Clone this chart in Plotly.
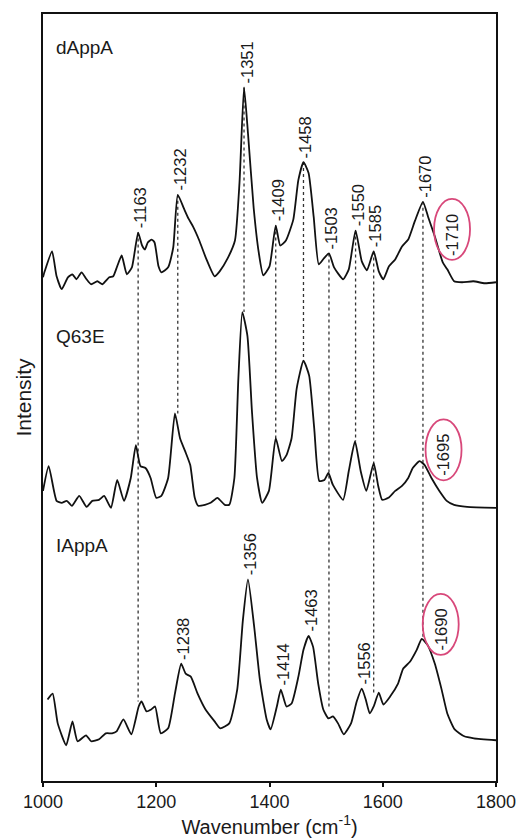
import numpy as np
import plotly.graph_objects as go

# ---------------- data ----------------
dappa_wn = [1000, 1003, 1016, 1024, 1033, 1044, 1052, 1059, 1068, 1077, 1085, 1096, 1105, 1117, 1124,
            1131, 1139, 1148, 1157, 1168, 1175, 1180, 1185, 1192, 1197, 1204, 1209, 1221, 1230, 1238,
            1249, 1257, 1265, 1276, 1288, 1303, 1312, 1326, 1339, 1347, 1355, 1362, 1372, 1381, 1389,
            1400, 1411, 1419, 1429, 1442, 1451, 1460, 1469, 1478, 1487, 1496, 1505, 1514, 1530, 1540,
            1552, 1563, 1572, 1584, 1593, 1601, 1611, 1622, 1634, 1645, 1657, 1671, 1680, 1692, 1706,
            1714, 1726, 1740, 1760, 1780, 1800]
dappa_int = [5, 11, 31, 6, -7, 5, 8, 3, 10, 3, -2, 1, -2, 5, 6,
             16, 27, 8, 15, 50, 37, 33, 40, 43, 40, 16, 10, 15, 35, 88,
             74, 64, 56, 42, 24, 6, 11, 24, 42, 100, 196, 150, 75, 30, 7,
             16, 57, 37, 42, 63, 103, 121, 110, 66, 18, 24, 29, 15, 3, 13,
             52, 21, 12, 31, 11, 3, 16, 23, 36, 43, 62, 81, 66, 46, 20,
             13, 1, 0, 1, -1, 0]

q63e_wn = [1000, 1010, 1024, 1033, 1042, 1051, 1064, 1077, 1087, 1099, 1108, 1120, 1131, 1143, 1155,
           1164, 1172, 1181, 1190, 1200, 1209, 1221, 1233, 1242, 1251, 1260, 1268, 1274, 1286, 1296,
           1308, 1321, 1329, 1338, 1345, 1352, 1361, 1369, 1378, 1387, 1399, 1411, 1422, 1430, 1439,
           1448, 1460, 1470, 1479, 1488, 1497, 1504, 1512, 1530, 1540, 1551, 1561, 1571, 1584, 1592,
           1599, 1610, 1622, 1634, 1645, 1653, 1665, 1674, 1686, 1700, 1713, 1726, 1749, 1800]
q63e_int = [17, 42, 7, 5, 7, 2, 12, 1, 7, 8, 12, 0, 28, 7, 30,
            63, 42, 40, 30, 10, 12, 30, 95, 70, 57, 43, 10, 2, 3, 5,
            10, 3, 3, 30, 130, 197, 173, 97, 30, 5, 17, 70, 47, 53, 70,
            120, 148, 133, 80, 27, 28, 35, 23, 8, 37, 67, 37, 17, 45, 22,
            8, 10, 17, 22, 30, 40, 47, 43, 30, 17, 7, 3, 1, 0]

iappa_wn = [1008, 1017, 1026, 1041, 1052, 1061, 1076, 1085, 1099, 1111, 1122, 1130, 1142, 1156, 1169,
            1174, 1183, 1191, 1198, 1208, 1221, 1233, 1244, 1252, 1261, 1273, 1287, 1303, 1313, 1329,
            1343, 1353, 1362, 1373, 1383, 1395, 1402, 1413, 1420, 1430, 1439, 1451, 1460, 1469, 1477,
            1486, 1495, 1504, 1512, 1521, 1531, 1544, 1554, 1563, 1570, 1577, 1584, 1593, 1601, 1613,
            1627, 1636, 1648, 1660, 1669, 1679, 1692, 1704, 1714, 1727, 1744, 1761, 1800]
iappa_int = [41, 47, 17, -5, 19, -1, 5, -1, 1, 7, 7, 9, 21, 6, 34,
             39, 29, 31, 34, 7, 12, 47, 77, 67, 64, 47, 31, 19, 12, 17,
             51, 121, 162, 114, 61, 21, 11, 34, 51, 34, 37, 64, 91, 105, 94,
             57, 31, 22, 24, 17, 6, 17, 39, 52, 41, 27, 34, 48, 36, 44,
             57, 72, 79, 91, 102, 96, 77, 51, 27, 11, 4, 2, 0]

sample_names = ["dAppA", "Q63E", "IAppA"]
offsets = [502, 275, 41]

dappa_peaks = ["1163", "1232", "1351", "1409", "1458", "1503", "1550", "1585", "1670"]
dappa_circled = ["1710"]
q63e_peaks = []
q63e_circled = ["1695"]
iappa_peaks = ["1238", "1356", "1414", "1463", "1556"]
iappa_circled = ["1690"]

# dotted guide lines: label in dAppA -> spectrum they run down to
guide_labels = ["1163", "1232", "1351", "1409", "1458", "1503", "1550", "1585", "1670"]
guide_targets = ["IAppA", "Q63E", "Q63E", "Q63E", "Q63E", "IAppA", "Q63E", "IAppA", "IAppA"]

x_ticks = [1000, 1200, 1400, 1600, 1800]

# ---------------- build ----------------
FONT = "Liberation Sans, Arial, sans-serif"
spectra = {
    "dAppA": (np.array(dappa_wn, float), np.array(dappa_int, float) + offsets[0]),
    "Q63E": (np.array(q63e_wn, float), np.array(q63e_int, float) + offsets[1]),
    "IAppA": (np.array(iappa_wn, float), np.array(iappa_int, float) + offsets[2]),
}


def local_max(name, wn, win=10):
    x, y = spectra[name]
    m = (x >= wn - win) & (x <= wn + win)
    i = np.argmax(np.where(m, y, -1e9))
    return x[i], y[i]


fig = go.Figure()

# guide lines
for lab, tgt in zip(guide_labels, guide_targets):
    px, py = local_max("dAppA", float(lab))
    _, by = local_max(tgt, px)
    fig.add_trace(go.Scatter(x=[px, px], y=[py, by], mode="lines",
                             line=dict(color="#333333", width=1.3, dash="dot"),
                             hoverinfo="skip", showlegend=False))

for name in sample_names:
    x, y = spectra[name]
    fig.add_trace(go.Scatter(x=x, y=y, mode="lines", name=name,
                             line=dict(color="#111111", width=1.8, shape="spline", smoothing=0.5),
                             showlegend=False))

annotations = []
shapes = []


def peak_label(name, lab):
    px, py = local_max(name, float(lab))
    annotations.append(dict(x=px, y=py, xref="x", yref="y", text="-" + lab, textangle=-90,
                            showarrow=False, xanchor="center", yanchor="bottom",
                            xshift=2, yshift=2, font=dict(family=FONT, size=16.5, color="#1a1a1a")))


def circled_label(name, lab):
    x, y = spectra[name]
    wn = float(lab)
    yy = float(np.interp(wn, x, y))
    xs, ys = 7, 8
    annotations.append(dict(x=wn, y=yy, xref="x", yref="y", text="-" + lab, textangle=-90,
                            showarrow=False, xanchor="center", yanchor="bottom",
                            xshift=xs, yshift=ys, font=dict(family=FONT, size=16.5, color="#1a1a1a")))
    shapes.append(dict(type="circle", xref="x", yref="y", xsizemode="pixel", ysizemode="pixel",
                       xanchor=wn, yanchor=yy, x0=xs - 18, x1=xs + 18, y0=ys - 2, y1=ys + 59,
                       line=dict(color="#d8487a", width=1.8)))


for lab in dappa_peaks:
    peak_label("dAppA", lab)
for lab in dappa_circled:
    circled_label("dAppA", lab)
for lab in q63e_peaks:
    peak_label("Q63E", lab)
for lab in q63e_circled:
    circled_label("Q63E", lab)
for lab in iappa_peaks:
    peak_label("IAppA", lab)
for lab in iappa_circled:
    circled_label("IAppA", lab)

# sample names
name_y = [738, 447, 237]
for nm, ny in zip(sample_names, name_y):
    annotations.append(dict(x=1019, y=ny, xref="x", yref="y", text=nm, showarrow=False,
                            xanchor="left", yanchor="middle",
                            font=dict(family=FONT, size=19, color="#1a1a1a")))

fig.update_layout(
    width=528, height=840,
    margin=dict(l=43, r=26, t=13, b=55),
    paper_bgcolor="white", plot_bgcolor="white",
    annotations=annotations, shapes=shapes,
    font=dict(family=FONT, color="#1a1a1a"),
    xaxis=dict(range=[1000, 1800], tickvals=x_ticks, ticks="outside", ticklen=4, tickwidth=2,
               tickcolor="#111", showline=True, linecolor="#111", linewidth=1.5, mirror=True,
               showgrid=False, zeroline=False, tickfont=dict(size=18, family=FONT),
               title=dict(text="Wavenumber (cm<sup>-1</sup>)", font=dict(size=20, family=FONT),
                          standoff=2)),
    yaxis=dict(range=[0, 772], showticklabels=False, ticks="", showline=True, linecolor="#111",
               linewidth=1.5, mirror=True, showgrid=False, zeroline=False,
               title=dict(text="Intensity", font=dict(size=21, family=FONT), standoff=4)),
)

fig.write_html("out.html")
